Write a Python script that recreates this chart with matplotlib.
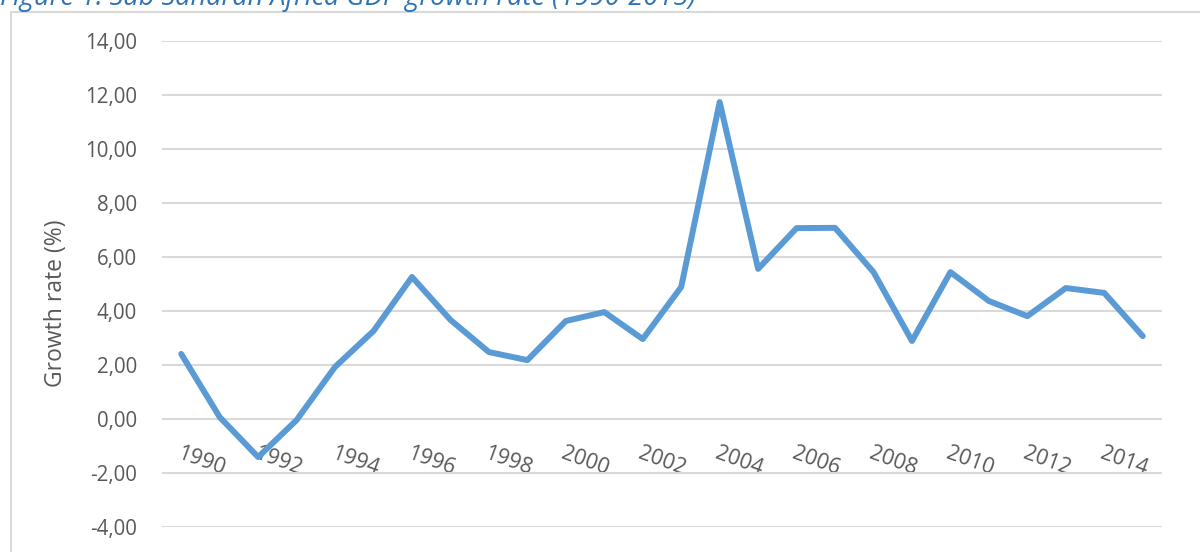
import matplotlib
matplotlib.use('Agg')
import matplotlib.pyplot as plt
from matplotlib.patches import Rectangle
from matplotlib.ticker import FuncFormatter

# Data
years = list(range(1990, 2016))
growth = [2.41, 0.07, -1.41, -0.04, 1.93, 3.26, 5.26, 3.67, 2.48, 2.18,
          3.63, 3.96, 2.96, 4.89, 11.74, 5.56, 7.07, 7.08, 5.44, 2.89,
          5.44, 4.37, 3.81, 4.85, 4.67, 3.07]
tick_years = list(range(1990, 2015, 2))
y_ticks = list(range(-4, 15, 2))

TITLE = 'Figure 1: Sub Saharan Africa GDP growth rate (1990-2015)'
LINE_COLOR = '#5B9BD5'
TEXT_COLOR = '#595959'
GRID_COLOR = '#D9D9D9'

plt.rcParams['font.family'] = ['Open Sans', 'DejaVu Sans']

fig = plt.figure(figsize=(12, 5.52), dpi=100)
ax = fig.add_axes([0.135, 0.0453, 0.8333, 0.8804])

x = list(range(len(years)))
ax.plot(x, growth, color=LINE_COLOR, lw=4.3, solid_joinstyle='round',
        solid_capstyle='round', zorder=3)

ax.set_xlim(-0.5, len(years) - 0.5)
ax.set_ylim(-4, 14)
ax.set_yticks(y_ticks)
ax.yaxis.set_major_formatter(FuncFormatter(lambda v, p: f'{v:.2f}'.replace('.', ',')))
ax.grid(axis='y', color=GRID_COLOR, lw=1.5)
ax.set_axisbelow(True)
for s in ax.spines.values():
    s.set_visible(False)
ax.spines['bottom'].set_position(('data', 0))

ax.set_xticks([years.index(y) for y in tick_years])
ax.set_xticklabels([str(y) for y in tick_years], rotation=-20, ha='left',
                   rotation_mode='anchor')
ax.tick_params(axis='x', length=0, pad=17, labelsize=15.5, labelcolor=TEXT_COLOR)
ax.tick_params(axis='y', length=0, pad=18, labelsize=14.8, labelcolor=TEXT_COLOR)

ax.set_ylabel('Growth rate (%)', fontsize=16.5, color=TEXT_COLOR)
ax.yaxis.set_label_coords(-0.094, 0.461)

# chart frame, cut by the page edge
fig.patches.append(Rectangle((11 / 1200, -0.1), 1.2, 1 - 12 / 552 + 0.1,
                             transform=fig.transFigure, fill=False,
                             ec=GRID_COLOR, lw=1.5))

fig.text(0.0, 1 - 5 / 552, TITLE, fontsize=19.5, style='italic', color='#2E74B5',
         va='baseline', ha='left')

fig.savefig('out.png', dpi=100)
